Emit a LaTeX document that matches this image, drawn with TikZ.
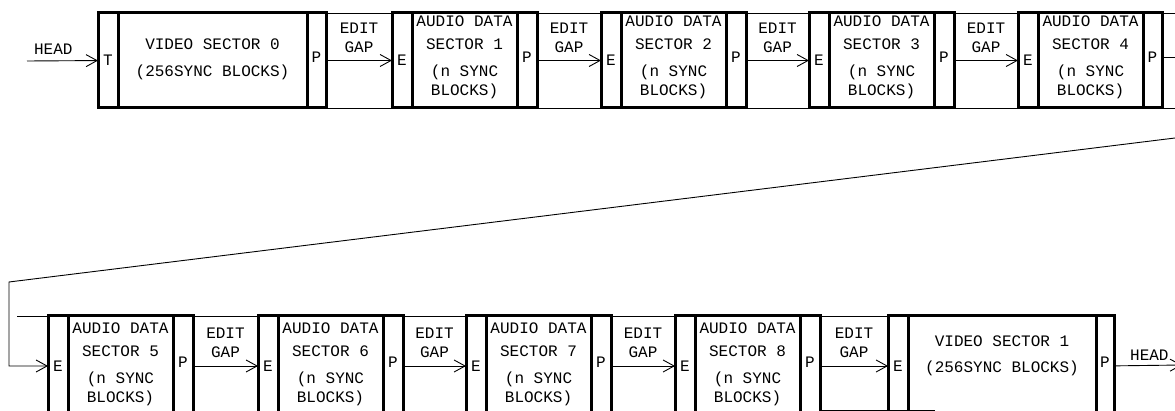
\documentclass[tikz,border=0pt]{standalone}
\usepackage{fontspec}
\setmonofont{Liberation Mono}
\usetikzlibrary{arrows.meta,positioning}
\tikzset{
    cellnode/.style = {
        rectangle,
        draw=black,
        line width=3pt,
        inner sep=0pt,
        outer sep=0pt,
        minimum height=95pt,
        font=\ttfamily\fontsize{16}{19}\selectfont
    },
    sidenode/.style = {
        cellnode,
        minimum width=20pt
    },
    pnode/.style = {
        sidenode,
        text depth=7pt
    },
    audionode/.style = {
        cellnode,
        minimum width=105pt
    },
    videonode/.style = {
        cellnode,
        minimum width=189pt
    },
    textnode/.style = {
        align=center,
        inner sep=0pt,
        outer sep=0pt,
        font=\ttfamily\fontsize{16}{19}\selectfont
    },
    gaplabel/.style = {
        textnode,
        above=8pt
    },
    tapeline/.style = {
        draw=black,
        line width=0.9pt
    },
    gaparrow/.style = {
        tapeline,
        -{Straight Barb[length=11pt,width=12pt]}
    }
}
\begin{document}
\begin{tikzpicture}[x=1pt,y=-1pt]
    \useasboundingbox (0,0) rectangle (1175,411);
    \node [sidenode, anchor=north west] (t0) at (98,13) {T};
    \node [videonode, right=0pt of t0] (m0) {};
    \node [pnode, minimum width=19pt, right=0pt of m0] (p0) {P};
    \node [sidenode, right=66pt of p0] (e1) {E};
    \node [audionode, right=0pt of e1] (m1) {};
    \node [pnode, right=0pt of m1] (p1) {P};
    \node [sidenode, right=64pt of p1] (e2) {E};
    \node [audionode, right=0pt of e2] (m2) {};
    \node [pnode, right=0pt of m2] (p2) {P};
    \node [sidenode, right=63pt of p2] (e3) {E};
    \node [audionode, right=0pt of e3] (m3) {};
    \node [pnode, right=0pt of m3] (p3) {P};
    \node [sidenode, right=64pt of p3] (e4) {E};
    \node [audionode, right=0pt of e4] (m4) {};
    \node [pnode, minimum width=19pt, right=0pt of m4] (p4) {P};

    \node [textnode, anchor=north, yshift=-26pt] (v0) at (m0.north) {VIDEO SECTOR 0\\[8pt](256SYNC BLOCKS)};
    \node [textnode, anchor=north, yshift=-3pt] (a1) at (m1.north) {AUDIO DATA\\[4pt]SECTOR 1\\[8pt](n SYNC\\BLOCKS)};
    \node [textnode, anchor=north, yshift=-3pt] (a2) at (m2.north) {AUDIO DATA\\[4pt]SECTOR 2\\[8pt](n SYNC\\BLOCKS)};
    \node [textnode, anchor=north, yshift=-3pt] (a3) at (m3.north) {AUDIO DATA\\[4pt]SECTOR 3\\[8pt](n SYNC\\BLOCKS)};
    \node [textnode, anchor=north, yshift=-3pt] (a4) at (m4.north) {AUDIO DATA\\[4pt]SECTOR 4\\[8pt](n SYNC\\BLOCKS)};

    \node [sidenode, minimum height=100pt, anchor=north west] (e5) at (48,316) {E};
    \node [audionode, minimum height=100pt, right=0pt of e5] (m5) {};
    \node [pnode, minimum height=100pt, right=0pt of m5] (p5) {P};
    \node [sidenode, minimum height=100pt, right=65pt of p5] (e6) {E};
    \node [audionode, minimum height=100pt, right=0pt of e6] (m6) {};
    \node [pnode, minimum height=100pt, right=0pt of m6] (p6) {P};
    \node [sidenode, minimum height=100pt, right=63pt of p6] (e7) {E};
    \node [audionode, minimum height=100pt, right=0pt of e7] (m7) {};
    \node [pnode, minimum height=100pt, right=0pt of m7] (p7) {P};
    \node [sidenode, minimum height=100pt, right=64pt of p7] (e8) {E};
    \node [audionode, minimum height=100pt, right=0pt of e8] (m8) {};
    \node [pnode, minimum height=100pt, right=0pt of m8] (p8) {P};
    \node [sidenode, minimum height=100pt, right=68pt of p8] (e9) {E};
    \node [videonode, minimum width=188pt, minimum height=100pt, right=0pt of e9] (m9) {};
    \node [pnode, minimum width=18pt, minimum height=100pt, right=0pt of m9] (p9) {P};

    \node [textnode, anchor=north, yshift=-7pt] (a5) at (m5.north) {AUDIO DATA\\[4pt]SECTOR 5\\[8pt](n SYNC\\BLOCKS)};
    \node [textnode, anchor=north, yshift=-7pt] (a6) at (m6.north) {AUDIO DATA\\[4pt]SECTOR 6\\[8pt](n SYNC\\BLOCKS)};
    \node [textnode, anchor=north, yshift=-7pt] (a7) at (m7.north) {AUDIO DATA\\[4pt]SECTOR 7\\[8pt](n SYNC\\BLOCKS)};
    \node [textnode, anchor=north, yshift=-7pt] (a8) at (m8.north) {AUDIO DATA\\[4pt]SECTOR 8\\[8pt](n SYNC\\BLOCKS)};
    \node [textnode, anchor=north, yshift=-20pt] (v1) at (m9.north) {VIDEO SECTOR 1\\[7pt](256SYNC BLOCKS)};

    \coordinate (headin) at (27,61);
    \coordinate (topend) at (1175,13);
    \coordinate (botend) at (1175,108);
    \coordinate (wrapout) at (1175,57);
    \coordinate (wrapin) at (1175,138);
    \coordinate (wrapbend) at (9,282);
    \coordinate (tapestart) at (17,316);
    \coordinate (gapfoot) at (935,410);
    \coordinate (headout) at (1182,365);

    \draw [tapeline] (p0.north east) -- (topend);
    \draw [tapeline] (p0.south east) -- (botend);
    \draw [tapeline] (tapestart) -- (e9.north west);
    \draw [tapeline] (p8.east |- gapfoot) -- (gapfoot);
    \draw [tapeline] (p4.east |- wrapout) -- (wrapout);

    \draw [gaparrow] (headin) -- node [gaplabel, above=6pt, pos=0.37] (h0) {HEAD} (t0);
    \draw [gaparrow] (p0) -- node [gaplabel] (g1) {EDIT\\GAP} (e1);
    \draw [gaparrow] (p1) -- node [gaplabel] (g2) {EDIT\\GAP} (e2);
    \draw [gaparrow] (p2) -- node [gaplabel] (g3) {EDIT\\GAP} (e3);
    \draw [gaparrow] (p3) -- node [gaplabel] (g4) {EDIT\\GAP} (e4);
    \draw [gaparrow] (wrapin) -- (wrapbend) |- (e5);
    \draw [gaparrow] (p5) -- node [gaplabel] (g5) {EDIT\\GAP} (e6);
    \draw [gaparrow] (p6) -- node [gaplabel] (g6) {EDIT\\GAP} (e7);
    \draw [gaparrow] (p7) -- node [gaplabel] (g7) {EDIT\\GAP} (e8);
    \draw [gaparrow] (p8) -- node [gaplabel] (g8) {EDIT\\GAP} (e9);
    \draw [gaparrow] (p9) -- node [gaplabel, above=5pt, pos=0.52] (h1) {HEAD} (headout);
\end{tikzpicture}
\end{document}
